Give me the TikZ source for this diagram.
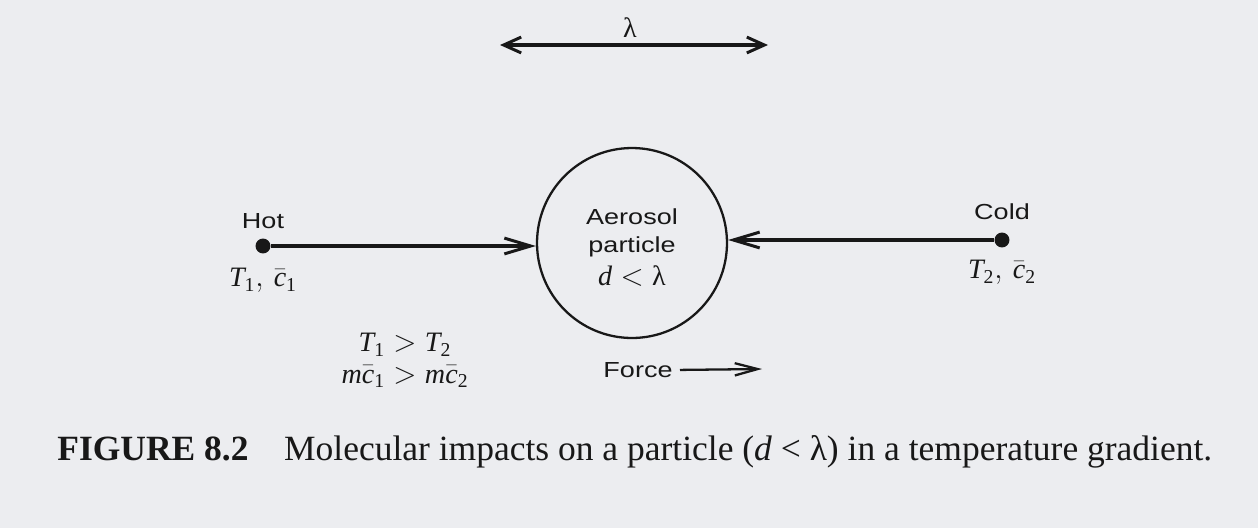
\documentclass[tikz,border=0pt]{standalone}
\usepackage{amsmath}
\usepackage{fontspec}
\setmainfont{Liberation Serif}
\newfontfamily\labelfont{Liberation Sans}
\usepackage{tikz}
\usetikzlibrary{arrows.meta,positioning}
\definecolor{paper}{RGB}{236,237,240}
\definecolor{ink}{RGB}{24,24,24}
\newcommand{\iv}[1]{\textit{#1}}
\newcommand{\sub}[1]{_{\text{#1}}}

\begin{document}
\begin{tikzpicture}[
    x=0.02cm, y=-0.02cm,
    tag/.style={text=ink, font=\labelfont\fontsize{12.4}{15}\selectfont, xscale=1.24, inner sep=0pt},
    sym/.style={text=ink, font=\fontsize{16}{19}\selectfont, inner sep=0pt},
    endpoint/.style={circle, fill=ink, minimum size=8.5pt, inner sep=0pt},
    particle/.style={circle, draw=ink, line width=1.3pt, minimum size=3.8cm, inner sep=0pt},
    arrow/.style={-{Straight Barb[length=15pt,width=9pt,line width=1.7pt]}, line width=2.1pt, draw=ink},
    span/.style={{Straight Barb[length=10pt,width=9pt,line width=1.7pt]}-{Straight Barb[length=10pt,width=9pt,line width=1.7pt]}, line width=2.1pt, draw=ink},
    push/.style={-{Straight Barb[length=13pt,width=7pt,line width=1.3pt]}, line width=1.3pt, draw=ink},
    caption/.style={text=ink, font=\fontsize{20.2}{24}\selectfont, inner sep=0pt}
]
    \fill[paper] (0,0) rectangle (1258,528);
    \useasboundingbox (0,0) rectangle (1258,528);

    \node[sym] (lambda) at (630,28) {λ};
    \coordinate (spanL) at (500,45);
    \coordinate (spanR) at (768,45);
    \draw[span] (spanL) -- (spanR);

    \node[particle] (particle) at (632,243) {};
    \node[tag] (aerosol) at (632,217) {Aerosol};
    \node[tag, below=6pt of aerosol] (word) {particle};
    \node[sym, below=5pt of word] (ratio) {$\iv{d}<\text{λ}$};

    \node[endpoint] (hot) at (263,246) {};
    \node[tag, above=5pt of hot] (hotlabel) {Hot};
    \node[sym, below=8pt of hot] (hotstate) {$\iv{T}\sub{1},\,\bar{\iv{c}}\sub{1}$};

    \node[endpoint] (cold) at (1002,240) {};
    \node[tag, above=7pt of cold] (coldlabel) {Cold};
    \node[sym, below=7pt of cold] (coldstate) {$\iv{T}\sub{2},\,\bar{\iv{c}}\sub{2}$};

    \draw[arrow] (hot) -- (hot -| particle.west);
    \draw[arrow] (cold) -- (cold -| particle.east);

    \node[sym] (tempratio) at (405,345) {$\iv{T}\sub{1} > \iv{T}\sub{2}$};
    \node[sym, below=5pt of tempratio] (momratio) {$\iv{m}\bar{\iv{c}}\sub{1} > \iv{m}\bar{\iv{c}}\sub{2}$};

    \node[tag] (force) at (638,370) {Force};
    \coordinate (forcetip) at (762,369);
    \draw[push, shorten <=4pt] (force.east) -- (forcetip);

    \node[caption, anchor=base west] (caption) at (57,460) {\textbf{FIGURE 8.2}\quad Molecular impacts on a particle (\textit{d} < λ) in a temperature gradient.};
\end{tikzpicture}
\end{document}
